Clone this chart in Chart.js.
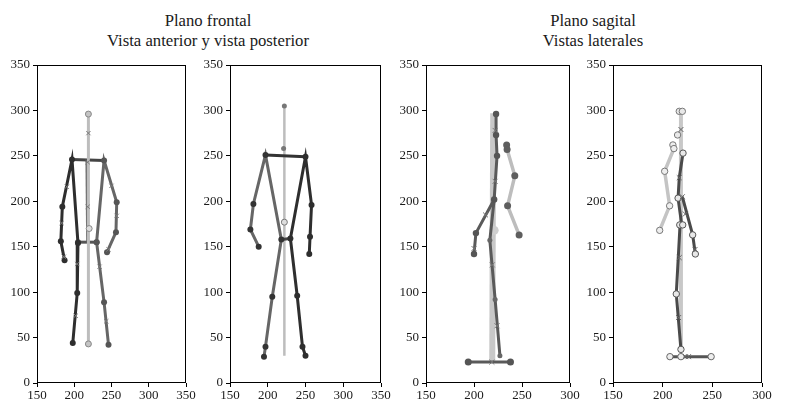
<!DOCTYPE html>
<html>
<head>
<meta charset="utf-8">
<script src="https://cdn.jsdelivr.net/npm/chart.js@4.4.1/dist/chart.umd.min.js"></script>
<style>
  body { margin: 0; background: #fff; }
  #wrap { position: relative; width: 791px; height: 417px; overflow: hidden; }
  #wrap canvas { position: absolute; left: 0; top: 0; }
  .title { position: absolute; width: 300px; text-align: center; font-family: "Liberation Serif", "DejaVu Serif", serif;
           font-size: 16.7px; line-height: 20px; color: #1a1a1a; }
</style>
</head>
<body>
<div id="wrap">
  <div class="title" style="left:58px; top:11px;">Plano frontal<br>Vista anterior y vista posterior</div>
  <div class="title" style="left:443px; top:11px;">Plano sagital<br>Vistas laterales</div>
  <canvas id="c1" width="791" height="417"></canvas>
  <canvas id="c2" width="791" height="417"></canvas>
  <canvas id="c3" width="791" height="417"></canvas>
  <canvas id="c4" width="791" height="417"></canvas>
</div>
<script>
// axis ticks
const yTicks = [0, 50, 100, 150, 200, 250, 300, 350];
const xTicksWide = [150, 200, 250, 300, 350];
const xTicksNarrow = [150, 200, 250, 300];

// ---- plano frontal, vista anterior ----
const antCenter = [[219, 296], [219, 43]];
const antLeft = [[187, 135], [182, 156], [184, 194], [197, 246], [205, 154], [204, 99], [198, 44]];
const antRight = [[244, 144], [256, 166], [257, 199], [240, 245], [230, 155], [240, 89], [246, 42]];
const antShoulders = [[197, 246], [240, 245]];
const antHips = [[205, 155], [230, 155]];
const antSpine = [[217, 246], [218, 155]];
const antCross = [[219, 275], [190, 216], [183, 176], [186, 139], [204, 131], [202, 74], [250, 217],
    [257, 184], [246, 147], [234, 128], [243, 68], [218, 194], [218, 243]];
const antRing = [[220, 170]];

// ---- plano frontal, vista posterior ----
const postCenter = [[222, 305], [222, 30]];
const postHead = [[222, 305], [221, 258]];
const postLeft = [[188, 150], [177, 169], [181, 197], [197, 251], [218, 158], [206, 95], [197, 40], [195, 29]];
const postRight = [[255, 142], [256, 161], [258, 196], [250, 249], [230, 159], [239, 96], [246, 40], [250, 30]];
const postShoulders = [[197, 251], [250, 249]];
const postHips = [[218, 158], [230, 159]];
const postRing = [[222, 177]];

// ---- plano sagital, vista lateral 1 ----
const lat1Center = [[220, 297], [219, 23]];
const lat1Arm = [[234, 262], [234.5, 257], [242.5, 228], [235, 195], [247, 163]];
const lat1Upper = [[223, 296], [223, 273], [224, 250], [221, 202], [202, 165], [200, 142]];
const lat1Leg = [[221, 202], [216.5, 157], [222, 92], [227, 30]];
const lat1Foot = [[194, 23], [238, 23]];
const lat1Cross = [[222, 278], [222, 222], [212, 185], [200, 148], [219, 130], [224, 63], [218.6, 23]];
const lat1Big = [[221, 168]];

// ---- plano sagital, vista lateral 2 ----
const lat2Center = [[218.4, 299], [218.4, 37]];
const lat2Arm = [[210.3, 262], [211.3, 258], [202, 233], [207, 195], [197, 168]];
const lat2Head = [[216.7, 299], [219.8, 299], [215, 273]];
const lat2Upper = [[220.5, 253], [216.7, 226], [215.5, 203.5], [219.2, 174]];
const lat2ArmDark = [[219.8, 205], [230.2, 163], [232.9, 142]];
const lat2Leg = [[217.5, 174], [213.7, 98], [218.4, 37]];
const lat2Foot = [[207.3, 29], [218.4, 29], [248.8, 29]];
const lat2Joints = [[217.2, 174], [220.2, 174], [213.7, 98], [218.4, 37], [230.2, 163], [232.9, 142], [215.5, 203.5], [220.5, 253]];
const lat2Cross = [[218.4, 279], [216.7, 226], [219.8, 205], [222.8, 186], [232.6, 147], [216.7, 138],
    [216, 72], [223, 29], [226, 29]];

const toXY = pts => pts.map(([x, y]) => ({ x, y }));

function chain(pts, color, width, radius, pointColor, pointBorder) {
    return {
        data: toXY(pts),
        showLine: true,
        borderColor: color,
        borderWidth: width,
        pointRadius: radius,
        pointBackgroundColor: pointColor ?? color,
        pointBorderColor: pointBorder ?? pointColor ?? color,
        pointBorderWidth: pointBorder ? 1 : 0,
        tension: 0,
    };
}

function marks(pts, style, radius, fill, border, bw) {
    return {
        data: toXY(pts),
        showLine: false,
        pointStyle: style,
        pointRadius: radius,
        pointBackgroundColor: fill,
        pointBorderColor: border,
        pointBorderWidth: bw,
    };
}

// black frame round each plot
const framePlugin = {
    id: 'frame',
    afterDraw(chart) {
        const { ctx, chartArea: a } = chart;
        ctx.save();
        ctx.strokeStyle = '#000';
        ctx.lineWidth = 1;
        ctx.strokeRect(Math.round(a.left) + 0.5, Math.round(a.top) + 0.5,
            Math.round(a.right - a.left) - 1, Math.round(a.bottom - a.top) - 1);
        ctx.restore();
    }
};

function makeChart(id, datasets, xTicks, pad) {
    const tickFont = { family: '"Liberation Serif", "DejaVu Serif", serif', size: 13 };
    const axisBase = {
        type: 'linear',
        border: { display: false },
        grid: { display: true, drawOnChartArea: false, drawTicks: true, tickLength: 4, color: '#000' },
    };
    return new Chart(document.getElementById(id), {
        type: 'scatter',
        data: { datasets },
        options: {
            responsive: false,
            animation: false,
            devicePixelRatio: 1,
            layout: { padding: pad },
            plugins: { legend: { display: false }, tooltip: { enabled: false } },
            scales: {
                x: {
                    ...axisBase,
                    min: xTicks[0], max: xTicks[xTicks.length - 1],
                    afterBuildTicks: s => { s.ticks = xTicks.map(v => ({ value: v })); },
                    ticks: { font: tickFont, color: '#1a1a1a', padding: 1, maxRotation: 0 },
                    afterFit: s => { s.height = 20; },
                },
                y: {
                    ...axisBase,
                    min: 0, max: 350,
                    afterBuildTicks: s => { s.ticks = yTicks.map(v => ({ value: v })); },
                    ticks: { font: tickFont, color: '#1a1a1a', padding: 3 },
                    afterFit: s => { s.width = 30; },
                },
            },
        },
        plugins: [framePlugin],
    });
}

const DARK = '#2e2e2e';
const MID = '#666666';
const LIGHT = '#bdbdbd';

makeChart('c1', [
    marks(antCross, 'crossRot', 3, 'rgba(0,0,0,0)', '#7a7a7a', 1),
    marks(antRing, 'circle', 3, '#ddd', '#888', 1),
    chain(antCenter, LIGHT, 3, 3, '#c4c4c4', '#888'),
    chain(antLeft, DARK, 3, 3),
    chain(antRight, MID, 3, 3, '#555'),
    chain(antShoulders, '#444', 3, 0),
    chain(antHips, '#555', 3, 3, '#555'),
    chain(antSpine, '#6e6e6e', 3, 0),
], xTicksWide, { left: 7, right: 605, top: 65, bottom: 14 });

makeChart('c2', [
    marks(postRing, 'circle', 3, '#ddd', '#777', 1),
    chain(postHead, 'rgba(0,0,0,0)', 0, 2.5, '#777'),
    chain(postLeft, MID, 3, 3, '#333'),
    chain(postRight, DARK, 3, 3),
    chain(postShoulders, '#333', 3, 0),
    chain(postHips, '#444', 3, 0),
    chain(postCenter, LIGHT, 2.5, 0),
], xTicksWide, { left: 200, right: 410, top: 65, bottom: 14 });

makeChart('c3', [
    marks(lat1Cross, 'crossRot', 3.5, 'rgba(0,0,0,0)', '#777', 1),
    chain(lat1Arm, LIGHT, 3.5, 3.5, '#5e5e5e'),
    chain(lat1Upper, '#5a5a5a', 3, 3.2, '#555'),
    chain(lat1Leg, '#5a5a5a', 3, 2.5, '#666'),
    chain(lat1Foot, '#5a5a5a', 3, 3.5, '#555'),
    marks(lat1Big, 'circle', 4.5, '#cfcfcf', '#cfcfcf', 0),
    chain(lat1Center, '#c8c8c8', 6, 0),
], xTicksNarrow, { left: 396, right: 221, top: 65, bottom: 14 });

makeChart('c4', [
    marks(lat2Cross, 'crossRot', 3.5, 'rgba(0,0,0,0)', '#666', 1),
    marks(lat2Joints, 'circle', 3.2, '#e8e8e8', '#555', 1),
    chain(lat2Head, 'rgba(0,0,0,0)', 0, 3.2, '#e8e8e8', '#777'),
    chain(lat2Upper, '#4a4a4a', 3, 0),
    chain(lat2ArmDark, '#4a4a4a', 3, 0),
    chain(lat2Leg, '#4a4a4a', 3, 0),
    chain(lat2Foot, '#555', 3, 3.2, '#eee', '#666'),
    chain(lat2Arm, '#c4c4c4', 3.5, 3.2, '#eee', '#777'),
    chain(lat2Center, '#c8c8c8', 4, 0),
], xTicksNarrow, { left: 583, right: 29, top: 65, bottom: 14 });
</script>
</body>
</html>
